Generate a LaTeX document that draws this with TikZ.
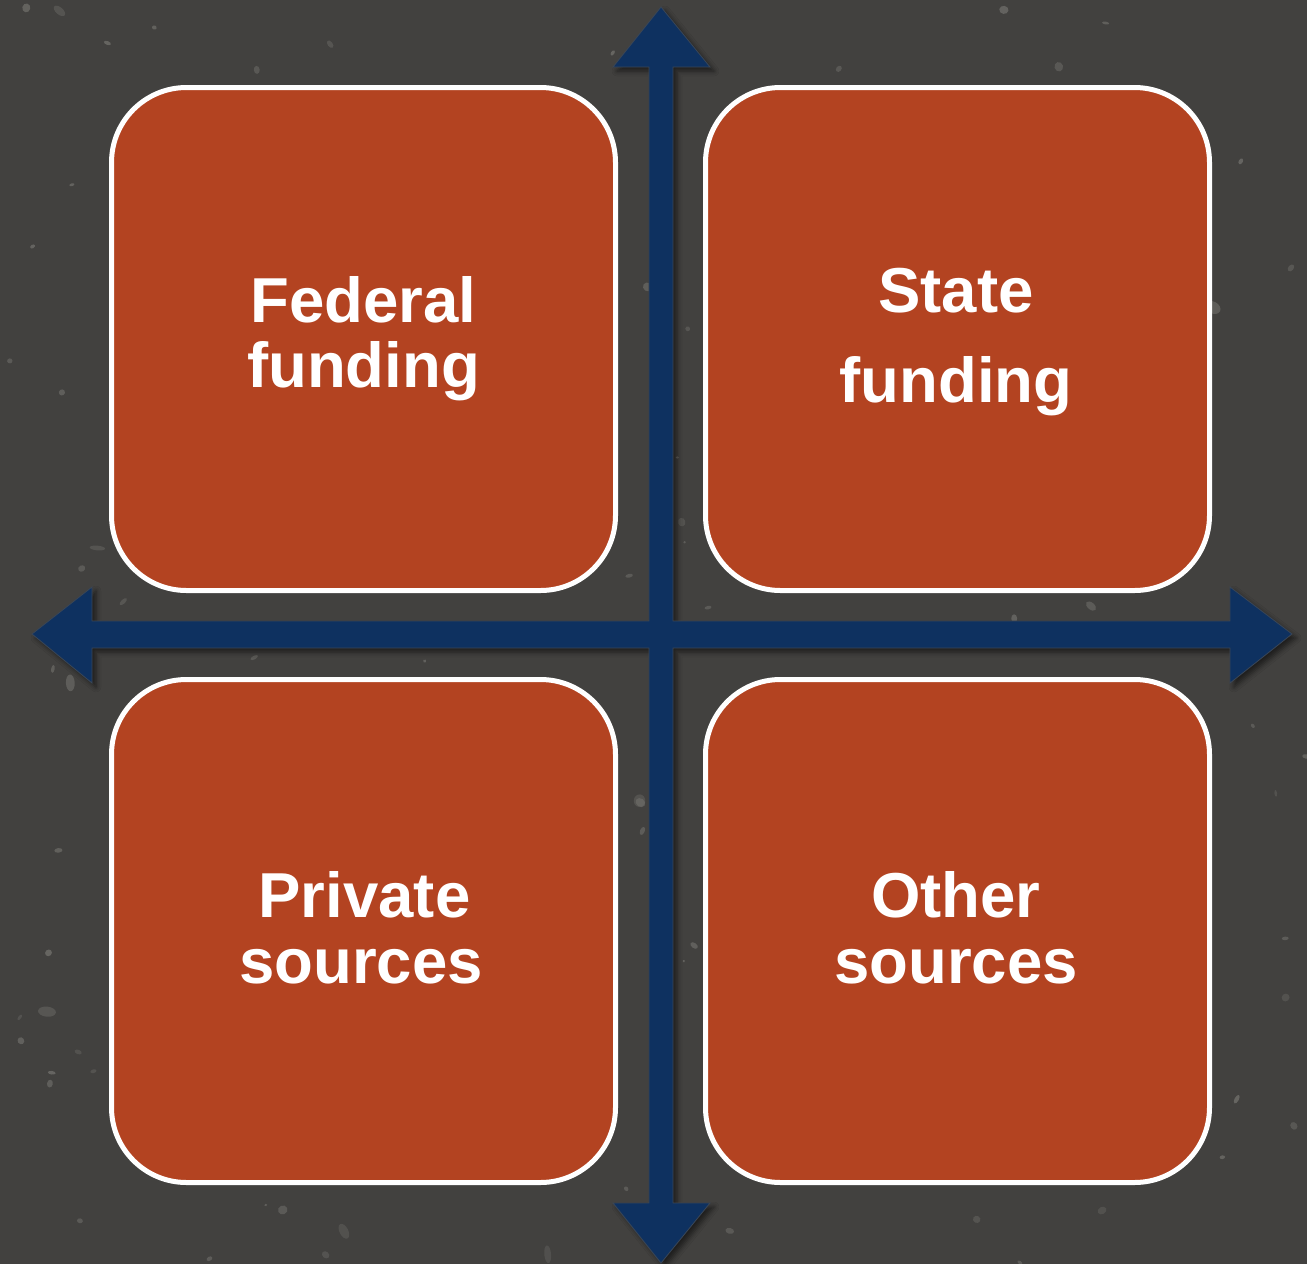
\documentclass[tikz,border=0pt]{standalone}
\usepackage{fontspec}
\setmainfont{Liberation Sans}
\usetikzlibrary{shadows.blur}

\definecolor{slate}{HTML}{42413F}
\definecolor{fleck}{HTML}{706F6B}
\definecolor{rust}{HTML}{B34321}
\definecolor{navy}{HTML}{0E3160}
\definecolor{navyedge}{HTML}{3A4656}

\tikzset{
  fundbox/.style={draw=white, line width=5pt, fill=rust, rounded corners=75pt,
    minimum width=504pt, minimum height=503pt, inner sep=0pt},
  lbl/.style={text=white, font=\fontsize{63.5}{66}\selectfont\bfseries,
    inner sep=0pt, anchor=base},
  axes/.style={fill=navy, draw=navyedge, line width=0.8pt,
    blur shadow={shadow xshift=4pt, shadow yshift=-4pt,
      shadow blur radius=5pt, shadow opacity=55}},
}

\begin{document}
\begin{tikzpicture}[x=1pt, y=-1pt]
  % page and textured backdrop
  \fill[slate] (0,0) rectangle (1307,1264);
  \useasboundingbox (0,0) rectangle (1307,1264);
  \pgfmathsetseed{4213}
  \foreach \k in {1,...,150}{
    \pgfmathsetmacro{\px}{rnd*1307}
    \pgfmathsetmacro{\py}{rnd*1264}
    \pgfmathsetmacro{\rx}{1.2+rnd*3.5}
    \pgfmathsetmacro{\ry}{1.2+rnd*3}
    \pgfmathsetmacro{\op}{0.35+rnd*0.45}
    \pgfmathsetmacro{\rot}{rnd*180}
    \fill[fleck, opacity=\op, rotate around={\rot:(\px,\py)}]
      (\px,\py) ellipse [x radius=\rx, y radius=\ry];
  }
  \foreach \k in {1,...,40}{
    \pgfmathsetmacro{\px}{rnd*1307}
    \pgfmathsetmacro{\py}{rnd*1264}
    \pgfmathsetmacro{\rx}{3+rnd*6}
    \pgfmathsetmacro{\ry}{2+rnd*4}
    \pgfmathsetmacro{\op}{0.3+rnd*0.35}
    \pgfmathsetmacro{\rot}{rnd*180}
    \fill[fleck, opacity=\op, rotate around={\rot:(\px,\py)}]
      (\px,\py) ellipse [x radius=\rx, y radius=\ry];
  }

  % the four funding quadrants
  \node[fundbox] (fed)   at (363.5,339) {};
  \node[fundbox] (state) at (957.5,339) {};
  \node[fundbox] (priv)  at (363.5,931) {};
  \node[fundbox] (other) at (957.5,931) {};

  % crossing double-headed axes
  \path[axes] (661,7) -- (710,67) -- (673,67) -- (673,621)
    -- (1230,621) -- (1230,587) -- (1292,634) -- (1230,683) -- (1230,648)
    -- (673,648) -- (673,1203) -- (710,1203) -- (661,1263) -- (613,1203)
    -- (649,1203) -- (649,648) -- (92,648) -- (92,683) -- (32,634)
    -- (92,587) -- (92,621) -- (649,621) -- (649,67) -- (613,67) -- cycle;

  % quadrant labels
  \node[lbl] (fedA)   at (363.5,322) {Federal};
  \node[lbl] (fedB)   at (363.5,387) {funding};
  \node[lbl] (stateA) at (956,312)   {State};
  \node[lbl] (stateB) at (956,402)   {funding};
  \node[lbl] (privA)  at (364.5,917) {Private};
  \node[lbl] (privB)  at (361,983)   {sources};
  \node[lbl] (otherA) at (956,917)   {Other};
  \node[lbl] (otherB) at (956,983)   {sources};
\end{tikzpicture}
\end{document}
